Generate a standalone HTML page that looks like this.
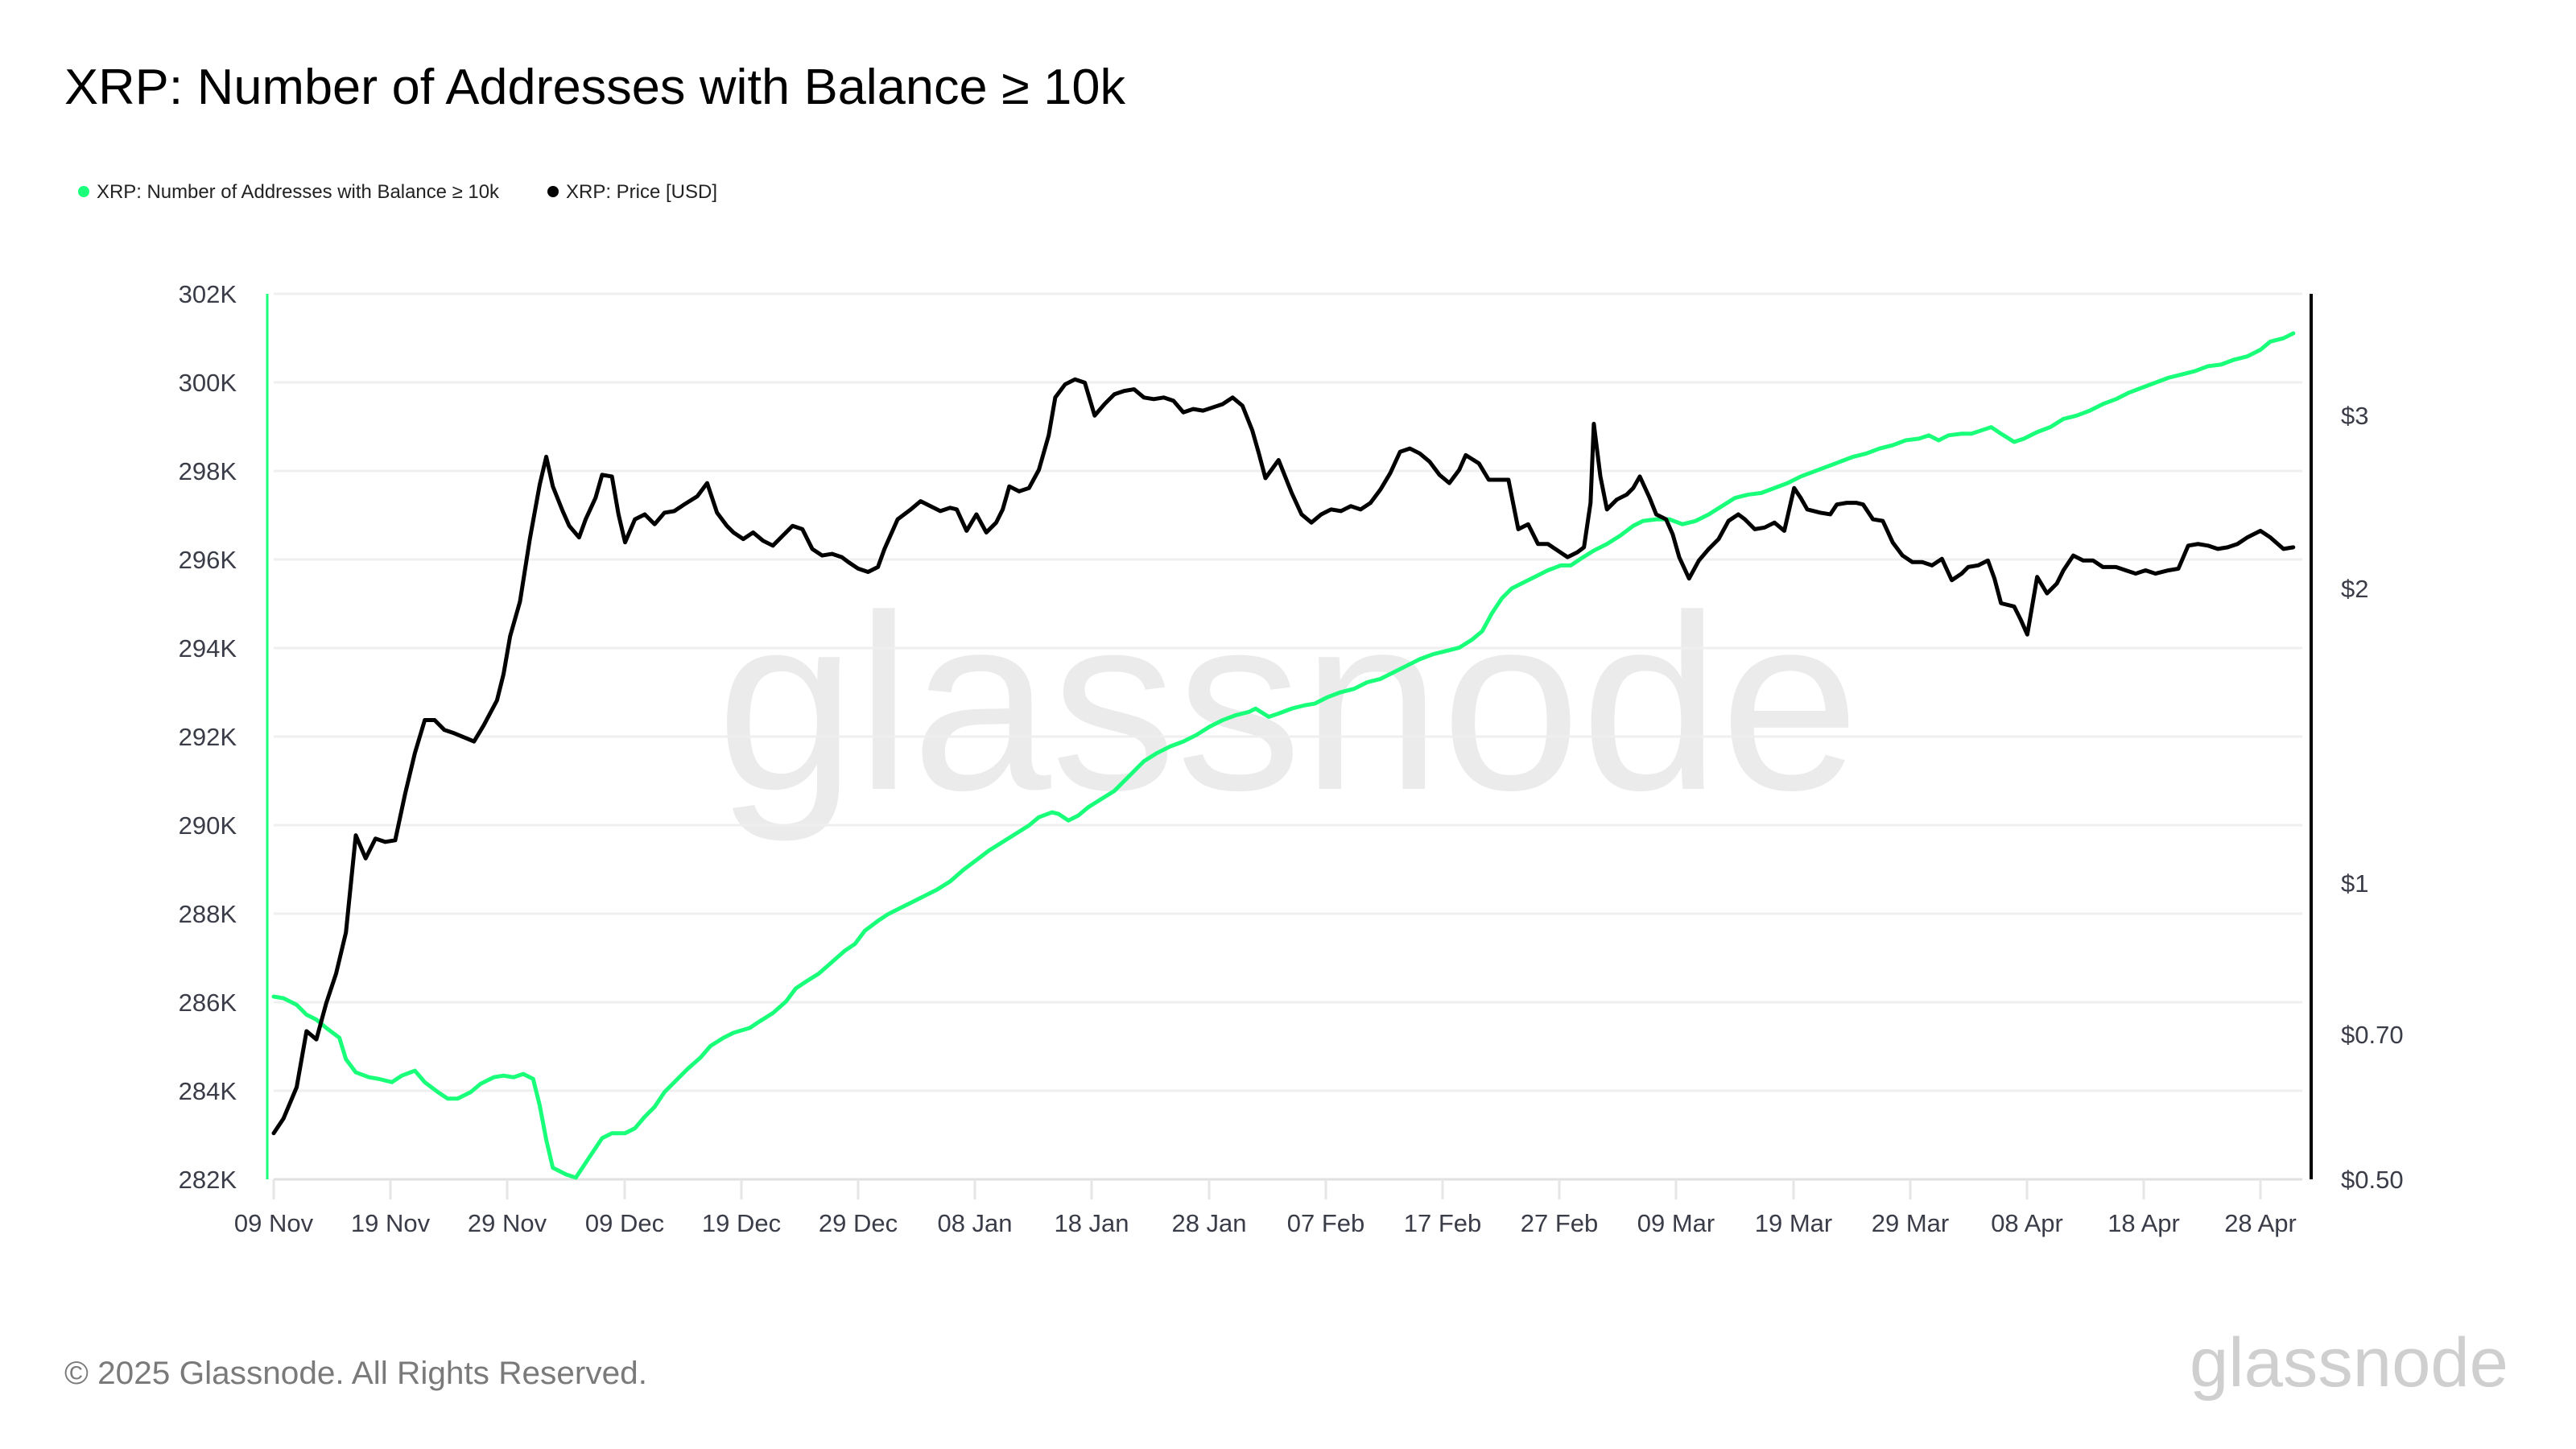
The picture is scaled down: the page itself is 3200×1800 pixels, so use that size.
<!DOCTYPE html>
<html><head><meta charset="utf-8"><style>
html,body{margin:0;padding:0;background:#fff;}
svg{display:block;font-family:"Liberation Sans",Arial,sans-serif;}
</style></head><body>
<svg width="3200" height="1800" viewBox="0 0 3200 1800" xmlns="http://www.w3.org/2000/svg">
<text x="80" y="129" font-size="62" fill="#000" textLength="1318" lengthAdjust="spacingAndGlyphs">XRP: Number of Addresses with Balance ≥ 10k</text>
<circle cx="104" cy="238" r="7" fill="#1aff7a"/>
<text x="120" y="246" font-size="24" fill="#222" textLength="500" lengthAdjust="spacingAndGlyphs">XRP: Number of Addresses with Balance ≥ 10k</text>
<circle cx="687" cy="238" r="7" fill="#000"/>
<text x="703" y="246" font-size="24" fill="#222" textLength="188" lengthAdjust="spacingAndGlyphs">XRP: Price [USD]</text>
<text x="1600" y="980" font-size="310" fill="#ebebeb" text-anchor="middle" textLength="1420" lengthAdjust="spacingAndGlyphs">glassnode</text>
<g stroke="#efefef" stroke-width="3">
<line x1="340" y1="365" x2="2860" y2="365"/><line x1="340" y1="475" x2="2860" y2="475"/><line x1="340" y1="585" x2="2860" y2="585"/><line x1="340" y1="695" x2="2860" y2="695"/><line x1="340" y1="805" x2="2860" y2="805"/><line x1="340" y1="915" x2="2860" y2="915"/><line x1="340" y1="1025" x2="2860" y2="1025"/><line x1="340" y1="1135" x2="2860" y2="1135"/><line x1="340" y1="1245" x2="2860" y2="1245"/><line x1="340" y1="1355" x2="2860" y2="1355"/>
</g>
<line x1="340" y1="1465" x2="2860" y2="1465" stroke="#e0e0e0" stroke-width="3"/>
<g stroke="#e6e6e6" stroke-width="3">
<line x1="340" y1="1465" x2="340" y2="1490"/><line x1="485" y1="1465" x2="485" y2="1490"/><line x1="630" y1="1465" x2="630" y2="1490"/><line x1="776" y1="1465" x2="776" y2="1490"/><line x1="921" y1="1465" x2="921" y2="1490"/><line x1="1066" y1="1465" x2="1066" y2="1490"/><line x1="1211" y1="1465" x2="1211" y2="1490"/><line x1="1356" y1="1465" x2="1356" y2="1490"/><line x1="1502" y1="1465" x2="1502" y2="1490"/><line x1="1647" y1="1465" x2="1647" y2="1490"/><line x1="1792" y1="1465" x2="1792" y2="1490"/><line x1="1937" y1="1465" x2="1937" y2="1490"/><line x1="2082" y1="1465" x2="2082" y2="1490"/><line x1="2228" y1="1465" x2="2228" y2="1490"/><line x1="2373" y1="1465" x2="2373" y2="1490"/><line x1="2518" y1="1465" x2="2518" y2="1490"/><line x1="2663" y1="1465" x2="2663" y2="1490"/><line x1="2808" y1="1465" x2="2808" y2="1490"/>
</g>
<g font-size="31" fill="#3a3d48" text-anchor="middle">
<text x="340" y="1530">09 Nov</text><text x="485" y="1530">19 Nov</text><text x="630" y="1530">29 Nov</text><text x="776" y="1530">09 Dec</text><text x="921" y="1530">19 Dec</text><text x="1066" y="1530">29 Dec</text><text x="1211" y="1530">08 Jan</text><text x="1356" y="1530">18 Jan</text><text x="1502" y="1530">28 Jan</text><text x="1647" y="1530">07 Feb</text><text x="1792" y="1530">17 Feb</text><text x="1937" y="1530">27 Feb</text><text x="2082" y="1530">09 Mar</text><text x="2228" y="1530">19 Mar</text><text x="2373" y="1530">29 Mar</text><text x="2518" y="1530">08 Apr</text><text x="2663" y="1530">18 Apr</text><text x="2808" y="1530">28 Apr</text>
</g>
<g font-size="31" fill="#3a3d48" text-anchor="end">
<text x="294" y="376">302K</text><text x="294" y="486">300K</text><text x="294" y="596">298K</text><text x="294" y="706">296K</text><text x="294" y="816">294K</text><text x="294" y="926">292K</text><text x="294" y="1036">290K</text><text x="294" y="1146">288K</text><text x="294" y="1256">286K</text><text x="294" y="1366">284K</text><text x="294" y="1476">282K</text>
</g>
<g font-size="31" fill="#3a3d48">
<text x="2908" y="527">$3</text><text x="2908" y="742">$2</text><text x="2908" y="1108">$1</text><text x="2908" y="1296">$0.70</text><text x="2908" y="1476">$0.50</text>
</g>
<line x1="332" y1="365" x2="332" y2="1465" stroke="#1aff7a" stroke-width="3"/>
<line x1="2871" y1="365" x2="2871" y2="1465" stroke="#000" stroke-width="4"/>
<g transform="translate(1.4,-1) scale(2.0397,2.0446)" fill="none" stroke-linejoin="round" stroke-linecap="round">
<polyline vector-effect="non-scaling-stroke" stroke="#1aff7a" stroke-width="5" points="166,606 172,607 180,611 186,617 192,620 198,625 206,631 210,644 216,652 224,655 230,656 238,658 244,654 252,651 258,658 266,664 272,668 278,668 286,664 292,659 300,655 306,654 312,655 318,653 324,656 328,672 332,693 336,710 344,714 350,716 356,707 362,698 366,692 372,689 380,689 386,686 392,679 398,673 404,664 412,656 418,650 426,643 432,636 440,631 446,628 456,625 462,621 470,616 478,609 484,601 490,597 498,592 506,585 514,578 520,574 526,566 534,560 540,556 546,553 554,549 562,545 570,541 578,536 586,529 594,523 602,517 610,512 618,507 626,502 632,497 640,494 644,495 650,499 656,496 662,491 670,486 678,481 684,475 690,469 696,463 704,458 712,454 720,451 728,447 736,442 744,438 752,435 760,433 764,431 772,436 778,434 786,431 794,429 800,428 808,424 816,421 824,419 832,415 840,413 848,409 856,405 864,401 872,398 880,396 888,394 896,389 902,384 908,373 914,364 920,358 928,354 936,350 942,347 950,344 956,344 962,340 970,335 978,331 986,326 994,320 1000,317 1008,316 1016,316 1024,319 1032,317 1040,313 1048,308 1056,303 1064,301 1072,300 1080,297 1088,294 1096,290 1104,287 1112,284 1120,281 1128,278 1136,276 1144,273 1152,271 1160,268 1168,267 1174,265 1180,268 1186,265 1194,264 1200,264 1206,262 1212,260 1218,264 1226,269 1232,267 1240,263 1248,260 1256,255 1264,253 1272,250 1280,246 1288,243 1296,239 1304,236 1312,233 1320,230 1328,228 1336,226 1344,223 1352,222 1360,219 1368,217 1376,213 1382,208 1390,206 1396,203"/>
<polyline vector-effect="non-scaling-stroke" stroke="#000" stroke-width="5" points="166,689 172,680 180,661 186,627 192,632 198,610 204,592 210,567 216,508 222,522 228,510 234,512 240,511 246,483 252,458 258,438 264,438 270,444 276,446 288,451 294,441 302,426 306,410 310,387 316,366 322,328 328,295 332,278 336,296 342,311 346,320 352,327 356,316 362,303 366,289 372,290 376,313 380,330 386,316 392,313 398,319 404,312 410,311 416,307 424,302 430,294 436,312 442,320 446,324 452,328 458,324 464,329 470,332 476,326 482,320 488,322 494,334 500,338 506,337 512,339 516,342 522,346 528,348 534,345 538,334 546,316 554,310 560,305 566,308 572,311 578,309 582,310 588,323 594,313 600,324 606,318 610,310 614,296 620,299 626,297 632,286 638,265 642,242 648,234 654,231 660,233 666,253 672,246 678,240 684,238 690,237 696,242 702,243 708,242 714,244 720,251 726,249 732,250 738,248 744,246 750,242 756,247 762,262 766,276 770,291 778,280 786,300 792,313 798,318 804,313 810,310 816,311 822,308 828,310 834,306 840,298 846,288 852,275 858,273 864,276 870,281 876,289 882,294 888,286 892,277 900,282 906,292 912,292 918,292 924,322 930,319 936,331 942,331 948,335 954,339 960,336 964,333 968,306 970,258 974,290 978,310 984,304 990,301 994,297 998,290 1004,303 1008,313 1014,316 1018,325 1022,339 1028,352 1034,341 1040,334 1046,328 1052,317 1058,313 1062,316 1068,322 1074,321 1080,318 1086,323 1092,297 1096,303 1100,310 1108,312 1114,313 1118,307 1124,306 1130,306 1134,307 1140,316 1146,317 1152,330 1158,338 1164,342 1170,342 1176,344 1182,340 1188,353 1194,349 1198,345 1204,344 1210,341 1214,352 1218,367 1226,369 1230,377 1234,386 1240,351 1246,361 1252,355 1256,347 1262,338 1268,341 1274,341 1280,345 1288,345 1294,347 1300,349 1306,347 1312,349 1320,347 1326,346 1332,332 1338,331 1344,332 1350,334 1356,333 1362,331 1368,327 1376,323 1382,327 1390,334 1396,333"/>
</g>
<text x="80" y="1719" font-size="40" fill="#7a7a7a" textLength="724" lengthAdjust="spacingAndGlyphs">© 2025 Glassnode. All Rights Reserved.</text>
<text x="2720" y="1722" font-size="86" fill="#cfcfcf" textLength="396" lengthAdjust="spacingAndGlyphs">glassnode</text>
</svg>
</body></html>
